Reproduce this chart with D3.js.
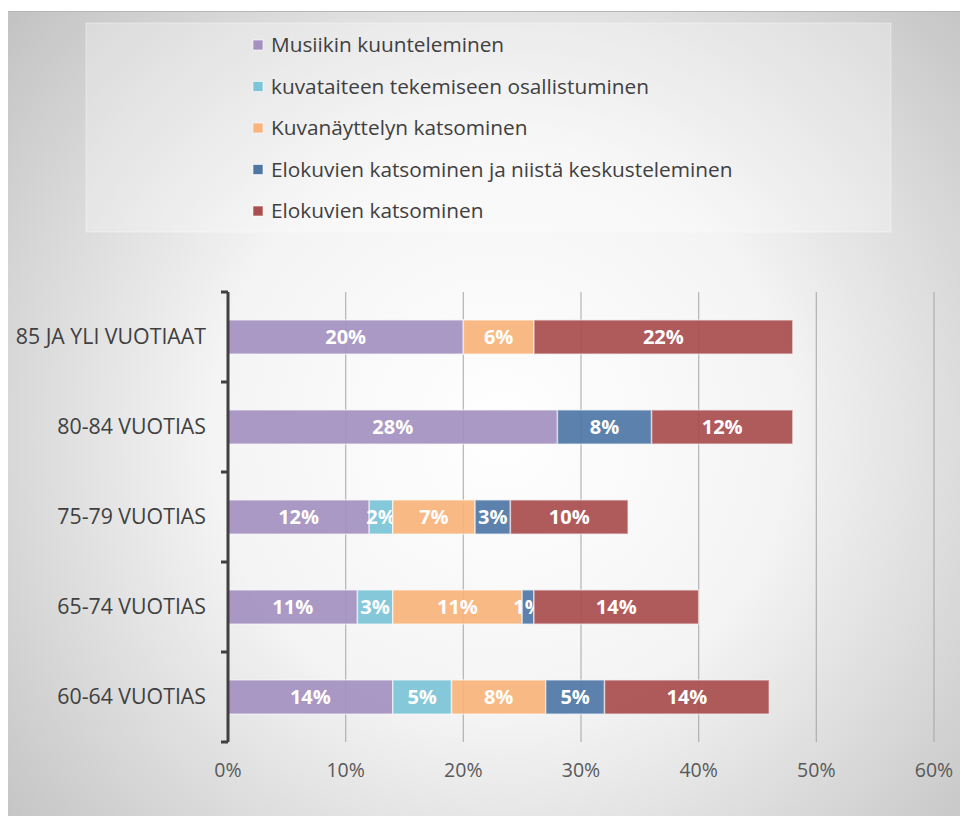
<!DOCTYPE html>
<html>
<head>
<meta charset="utf-8">
<script src="https://cdn.jsdelivr.net/npm/d3@7"></script>
<style>
  body { margin: 0; background: #fff; }
  svg text { font-family: "Open Sans", "DejaVu Sans", sans-serif; }
</style>
</head>
<body>
<div id="chart"></div>
<script>
// categories, top to bottom
const groups = ["85 JA YLI VUOTIAAT", "80-84 VUOTIAS", "75-79 VUOTIAS", "65-74 VUOTIAS", "60-64 VUOTIAS"];
const seriesNames = [
  "Musiikin kuunteleminen",
  "kuvataiteen tekemiseen osallistuminen",
  "Kuvanäyttelyn katsominen",
  "Elokuvien katsominen ja niistä keskusteleminen",
  "Elokuvien katsominen"
];
const seriesColors = ["#a491bf", "#7cc4d7", "#f8b47c", "#4f77a6", "#aa4f4f"];
// values in %, one per group (same order as groups)
const musiikki = [20, 28, 12, 11, 14];
const kuvataide = [0, 0, 2, 3, 5];
const kuvanayttely = [6, 0, 7, 11, 8];
const elokuvatKesk = [0, 8, 3, 1, 5];
const elokuvat = [22, 12, 10, 14, 14];
const xTicks = [0, 10, 20, 30, 40, 50, 60];

const W = 960, H = 816;
const svg = d3.select("#chart").append("svg")
  .attr("width", W).attr("height", H);

const defs = svg.append("defs");
const grad = defs.append("radialGradient").attr("id", "bg")
  .attr("gradientUnits", "userSpaceOnUse")
  .attr("cx", 500).attr("cy", 430).attr("r", 640);
grad.append("stop").attr("offset", "0%").attr("stop-color", "#ffffff");
grad.append("stop").attr("offset", "45%").attr("stop-color", "#f4f4f4");
grad.append("stop").attr("offset", "100%").attr("stop-color", "#c3c3c3");

// chart area background
svg.append("rect").attr("x", 8).attr("y", 11).attr("width", W - 8).attr("height", H - 11)
  .attr("fill", "url(#bg)");
svg.append("line").attr("x1", 8).attr("x2", W).attr("y1", 11.5).attr("y2", 11.5)
  .attr("stroke", "#b5b5b5");

// legend box
svg.append("rect").attr("x", 86).attr("y", 23).attr("width", 805).attr("height", 209)
  .attr("fill", "#ffffff").attr("fill-opacity", 0.3)
  .attr("stroke", "#ffffff").attr("stroke-opacity", 0.4);

const legend = svg.append("g");
seriesNames.forEach((name, i) => {
  const y = 45 + i * 41.5;
  legend.append("rect").attr("x", 253).attr("y", y - 5).attr("width", 10).attr("height", 10)
    .attr("fill", seriesColors[i]).attr("stroke", "#ffffff").attr("stroke-opacity", 0.6);
  legend.append("text").attr("x", 271).attr("y", y).attr("dy", "0.35em")
    .attr("font-size", 20.8).attr("fill", "#404040").text(name);
});

const margin = { left: 228, right: 26, top: 292, bottom: 74 };
const x = d3.scaleLinear().domain([0, 60]).range([margin.left, W - margin.right]);
const y = d3.scaleBand().domain(groups).range([margin.top, H - margin.bottom]).paddingInner(0.62).paddingOuter(0.31);

// vertical gridlines
svg.append("g").selectAll("line").data(xTicks.slice(1)).join("line")
  .attr("x1", d => x(d)).attr("x2", d => x(d))
  .attr("y1", margin.top).attr("y2", H - margin.bottom)
  .attr("stroke", "#a3a3a3").attr("stroke-width", 1.3).attr("stroke-opacity", 0.75);

// x tick labels
svg.append("g").selectAll("text").data(xTicks).join("text")
  .attr("x", d => x(d)).attr("y", 777).attr("text-anchor", "middle")
  .attr("font-size", 19.5).attr("fill", "#595959").text(d => d + "%");

// stacked bars
const table = groups.map((g, i) => ({
  group: g, s0: musiikki[i], s1: kuvataide[i], s2: kuvanayttely[i], s3: elokuvatKesk[i], s4: elokuvat[i]
}));
const stack = d3.stack().keys(["s0", "s1", "s2", "s3", "s4"])(table);

const layers = svg.append("g").selectAll("g").data(stack).join("g")
  .attr("fill", (d, i) => seriesColors[i]);

layers.selectAll("rect").data(d => d.filter(p => p[1] - p[0] > 0)).join("rect")
  .attr("x", d => x(d[0])).attr("width", d => x(d[1]) - x(d[0]))
  .attr("y", d => y(d.data.group)).attr("height", y.bandwidth())
  .attr("fill-opacity", 0.93)
  .attr("stroke", "#ffffff").attr("stroke-opacity", 0.55).attr("stroke-width", 1.5);

layers.selectAll("text").data(d => d.filter(p => p[1] - p[0] > 0)).join("text")
  .attr("x", d => (x(d[0]) + x(d[1])) / 2)
  .attr("y", d => y(d.data.group) + y.bandwidth() / 2).attr("dy", "0.36em")
  .attr("text-anchor", "middle").attr("font-size", 20).attr("font-weight", "bold")
  .attr("fill", "#ffffff").text(d => (d[1] - d[0]) + "%");

// category axis
const yAxis = svg.append("g").attr("transform", `translate(${margin.left},0)`)
  .call(d3.axisLeft(y).tickSize(0).tickPadding(22));
yAxis.select(".domain").remove();
yAxis.selectAll("text").attr("font-size", 21.3).attr("fill", "#404040")
  .attr("font-family", "'Open Sans', sans-serif");

const edgeTicks = d3.range(groups.length + 1).map(i => margin.top + i * (H - margin.bottom - margin.top) / groups.length);
svg.append("line").attr("x1", margin.left).attr("x2", margin.left)
  .attr("y1", margin.top).attr("y2", H - margin.bottom)
  .attr("stroke", "#404040").attr("stroke-width", 3);
svg.append("g").selectAll("line").data(edgeTicks).join("line")
  .attr("x1", margin.left - 7).attr("x2", margin.left)
  .attr("y1", d => d).attr("y2", d => d)
  .attr("stroke", "#404040").attr("stroke-width", 3);
</script>
</body>
</html>
